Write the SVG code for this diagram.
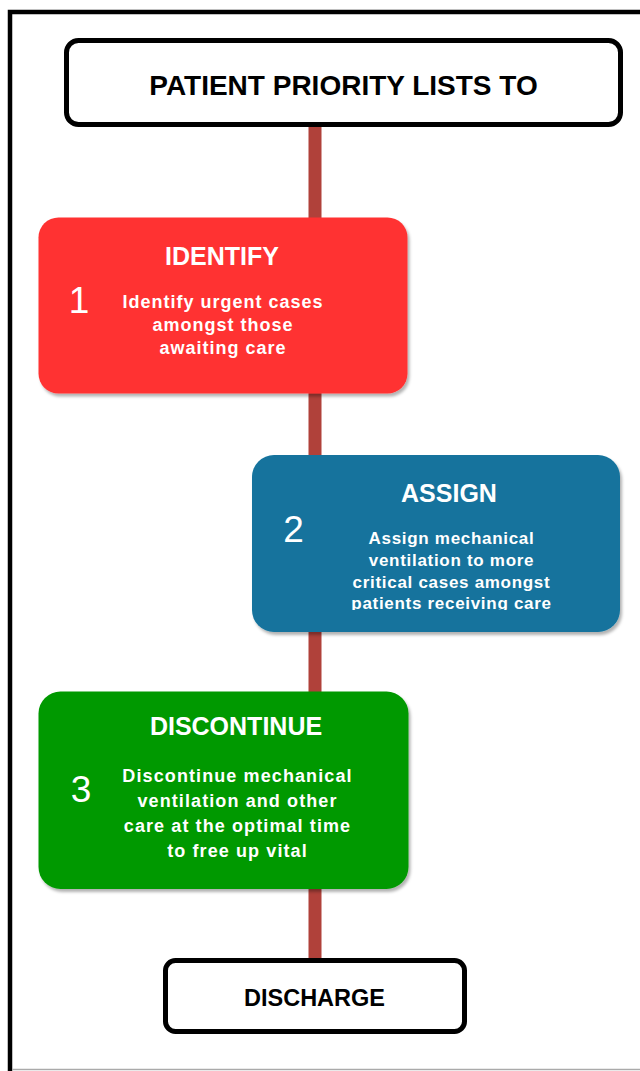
<svg xmlns="http://www.w3.org/2000/svg" width="640" height="1071" viewBox="0 0 640 1071">
  <defs>
    <filter id="shadow" x="-5%" y="-5%" width="112%" height="115%">
      <feDropShadow dx="2" dy="3" stdDeviation="1.5" flood-color="#000" flood-opacity="0.3"/>
    </filter>
    <clipPath id="clipAssign">
      <rect x="252" y="455" width="368" height="155"/>
    </clipPath>
  </defs>
  <style>
    .frame { fill: none; stroke: #000; stroke-width: 4.5; }
    .term { fill: #fff; stroke: #000; stroke-width: 5; }
    .termtext { font-family: "Liberation Sans", Arial, sans-serif; font-weight: bold; fill: #000; text-anchor: middle; }
    .step { filter: url(#shadow); }
    .title { font-family: "Liberation Sans", Arial, sans-serif; font-weight: bold; font-size: 25px; fill: #fff; text-anchor: middle; }
    .num { font-family: "Liberation Sans", Arial, sans-serif; font-size: 37px; fill: #fff; text-anchor: middle; }
    .body { font-family: "Liberation Sans", Arial, sans-serif; font-weight: bold; font-size: 18px; letter-spacing: 1px; fill: #fff; text-anchor: middle; }
    .conn { stroke: #b0413a; stroke-width: 13; fill: none; }
  </style>
  <rect width="640" height="1071" fill="#fff"/>
  <path class="frame" d="M10,1071 V12 H645"/>
  <line x1="12" y1="1069.5" x2="640" y2="1069.5" stroke="#aaa" stroke-width="1.5"/>

  <g id="connectors">
    <line class="conn" x1="315" y1="127" x2="315" y2="958"/>
  </g>

  <g id="start">
    <rect class="term" x="66.5" y="40.5" width="554" height="84" rx="12"/>
    <text class="termtext" x="343.5" y="95" font-size="28">PATIENT PRIORITY LISTS TO</text>
  </g>

  <g id="identify">
    <rect class="step" x="38.5" y="217.5" width="369" height="176" rx="20" fill="#ff3333"/>
    <text class="title" x="222" y="265">IDENTIFY</text>
    <text class="num" x="79" y="313">1</text>
    <text class="body" x="223" y="308">Identify urgent cases</text>
    <text class="body" x="223" y="331">amongst those</text>
    <text class="body" x="223" y="354">awaiting care</text>
  </g>

  <g id="assign">
    <rect class="step" x="252" y="455" width="368" height="177" rx="22" fill="#13739d"/>
    <text class="title" x="449" y="501.5">ASSIGN</text>
    <text class="num" x="293.5" y="542">2</text>
    <g clip-path="url(#clipAssign)" style="font-size:17px;letter-spacing:0.7px">
      <text class="body" x="451.5" y="544" style="font-size:17px;letter-spacing:0.7px">Assign mechanical</text>
      <text class="body" x="451.5" y="566" style="font-size:17px;letter-spacing:0.7px">ventilation to more</text>
      <text class="body" x="451.5" y="587.5" style="font-size:17px;letter-spacing:0.7px">critical cases amongst</text>
      <text class="body" x="451.5" y="609" style="font-size:17px;letter-spacing:0.7px">patients receiving care</text>
    </g>
  </g>

  <g id="discontinue">
    <rect class="step" x="38.5" y="691.5" width="370" height="197.5" rx="22" fill="#009900"/>
    <text class="title" x="236" y="735">DISCONTINUE</text>
    <text class="num" x="81" y="801.5">3</text>
    <text class="body" x="237.5" y="782" style="letter-spacing:1.1px">Discontinue mechanical</text>
    <text class="body" x="237.5" y="807" style="letter-spacing:1.1px">ventilation and other</text>
    <text class="body" x="237.5" y="832" style="letter-spacing:1.1px">care at the optimal time</text>
    <text class="body" x="237.5" y="857" style="letter-spacing:1.1px">to free up vital</text>
  </g>

  <g id="discharge">
    <rect class="term" x="165.5" y="960.5" width="299" height="71" rx="10"/>
    <text class="termtext" x="314.5" y="1005.5" font-size="23.5">DISCHARGE</text>
  </g>
</svg>
